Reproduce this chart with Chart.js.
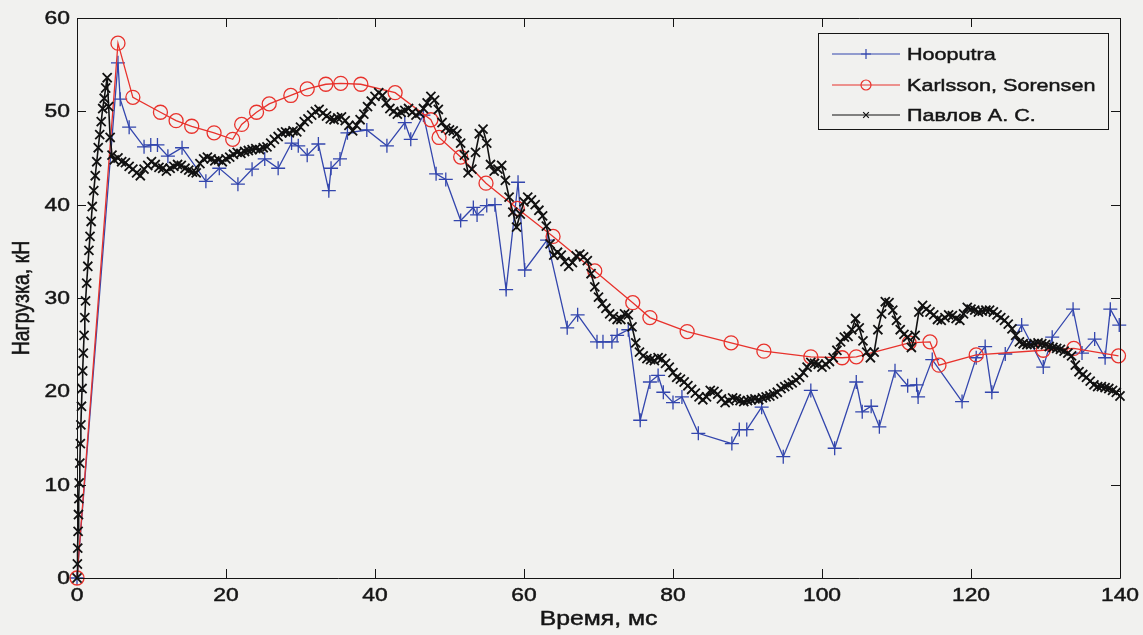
<!DOCTYPE html>
<html>
<head>
<meta charset="utf-8">
<script src="https://cdn.jsdelivr.net/npm/chart.js@4/dist/chart.umd.min.js"></script>
<style>
  html, body { margin: 0; padding: 0; background: #f1f1ef; }
  #wrap { width: 1143px; height: 635px; position: relative; }
</style>
</head>
<body>
<div id="wrap"><canvas id="c" width="1143" height="635"></canvas></div>
<script>
// Series names (legend order)
const seriesNames = ['Hooputra', 'Karlsson, Sorensen', 'Павлов А. С.'];

// Hooputra: time, ms / load, kN
const hooputraTime = [0, 5.5, 5.8, 7.0, 9.0, 9.9, 10.8, 12.2, 14.1, 17.3, 19.1, 21.6, 23.5, 25.2, 27.0,
  28.8, 29.7, 30.9, 32.4, 33.8, 34.1, 35.3, 36.3, 38.9, 41.6, 44.0, 44.8, 46.5, 48.2, 49.5,
  51.5, 53.2, 53.7, 55.0, 56.1, 57.6, 59.2, 60.1, 63.1, 65.8, 67.2, 69.8, 70.6, 71.8, 72.5,
  74.0, 75.6, 76.9, 78.0, 78.7, 80.0, 81.2, 83.4, 87.9, 88.9, 89.9, 91.9, 94.8, 98.5, 101.7,
  104.6, 105.4, 106.6, 107.7, 109.8, 111.5, 112.7, 112.9, 114.8, 118.8, 120.7, 121.9, 122.8, 124.6, 126.8,
  129.7, 130.9, 133.7, 134.9, 136.6, 138.0, 138.7, 139.9];
const hooputraLoad = [0, 55.2, 51.3, 48.3, 46.2, 46.4, 46.4, 45.2, 46.1, 42.5, 43.9, 42.2, 43.8, 44.9, 43.9,
  46.6, 46.3, 45.3, 46.5, 41.5, 43.9, 44.9, 47.7, 48.0, 46.3, 48.8, 47.0, 49.6, 43.3, 42.7,
  38.3, 39.7, 38.9, 39.9, 40.0, 30.9, 42.4, 33.0, 36.2, 26.8, 28.2, 25.3, 25.3, 25.3, 26.0,
  26.6, 16.9, 21.0, 21.7, 19.9, 18.8, 19.4, 15.5, 14.4, 15.9, 15.9, 18.3, 13.0, 20.1, 13.9,
  21.0, 17.8, 18.4, 16.2, 22.2, 20.6, 20.7, 19.4, 23.4, 18.9, 23.6, 24.8, 19.9, 24.0, 27.1,
  22.6, 25.8, 28.8, 24.1, 25.6, 23.6, 28.8, 27.1];

// Karlsson, Sorensen: time, ms / load, kN
const karlssonTime = [0, 5.5, 7.5, 11.2, 13.3, 15.4, 18.4, 20.9, 22.1, 24.1, 25.8, 28.7, 30.9, 33.4, 35.4,
  38.1, 42.7, 47.5, 48.6, 51.5, 54.9, 59.1, 63.9, 69.5, 74.6, 76.9, 81.9, 87.8, 92.2, 98.5,
  102.7, 104.6, 111.7, 114.5, 115.7, 120.7, 129.7, 133.8, 139.8];
const karlssonLoad = [0, 57.3, 51.5, 49.9, 49.0, 48.4, 47.7, 47.0, 48.6, 49.9, 50.8, 51.7, 52.4, 52.9, 53.0,
  52.9, 52.0, 49.1, 47.2, 45.1, 42.3, 39.6, 36.6, 32.9, 29.5, 27.9, 26.4, 25.2, 24.3, 23.7,
  23.6, 23.7, 25.2, 25.3, 22.8, 23.9, 24.4, 24.6, 23.8];

// Павлов А. С.: loading front (time, ms / load, kN)
const pavlovRampTime = [0, 0.05, 0.1, 0.15, 0.2, 0.25, 0.3, 0.38, 0.45, 0.52, 0.6, 0.68, 0.76, 0.85, 0.95,
  1.05, 1.15, 1.3, 1.45, 1.6, 1.75, 1.9, 2.05, 2.25, 2.45, 2.65, 2.85, 3.05, 3.25, 3.45,
  3.65, 3.85, 4.05, 4.25, 4.45, 4.7];
const pavlovRampLoad = [0, 1.5, 3.2, 5.0, 6.8, 8.5, 10.2, 12.3, 14.4, 16.4, 18.4, 20.3, 22.2, 24.1, 26.0,
  27.9, 29.7, 31.6, 33.4, 35.1, 36.6, 38.2, 39.8, 41.5, 43.1, 44.6, 46.1, 47.5, 48.9, 50.3,
  51.4, 52.5, 53.6, 50.5, 47.2, 45.3];

// Павлов А. С.: recorded load, kN, sampled every pavlovStepMs from pavlovStartMs
const pavlovStartMs = 5.0;
const pavlovStepMs = 0.5;
const pavlovLoad = [
  44.8, 45.0, 44.6, 44.5, 44.1, 43.8, 43.4, 43.1, 43.8, 44.2,
  44.6, 44.3, 44.0, 43.9, 43.6, 43.9, 44.1, 44.3, 44.2, 43.9,
  43.7, 43.5, 43.4, 44.4, 44.9, 45.1, 44.9, 44.7, 44.8, 44.6,
  44.9, 45.1, 45.4, 45.6, 45.5, 45.7, 45.8, 45.9, 46.0, 45.9,
  46.1, 46.2, 46.6, 47.0, 47.3, 47.7, 47.8, 47.7, 47.9, 47.8,
  48.3, 48.9, 49.2, 49.6, 50.0, 50.2, 49.8, 49.5, 49.2, 49.1,
  49.3, 49.4, 49.0, 48.5, 47.9, 48.5, 49.1, 49.7, 50.5, 51.1,
  51.6, 52.0, 51.7, 50.9, 50.3, 50.0, 49.7, 49.9, 50.1, 50.3,
  49.9, 49.6, 49.8, 50.3, 50.9, 51.6, 51.2, 50.2, 48.8, 48.2,
  48.0, 47.9, 47.6, 46.6, 45.3, 43.4, 43.8, 45.6, 47.6, 48.1,
  46.6, 44.3, 43.6, 43.8, 44.2, 42.6, 40.8, 39.2, 37.6, 39.0,
  40.3, 40.8, 40.5, 40.0, 39.4, 38.8, 37.7, 35.8, 34.6, 34.9,
  34.6, 33.9, 33.4, 33.8, 34.5, 34.7, 34.4, 34.0, 32.6, 31.2,
  30.1, 29.4, 28.9, 28.3, 28.0, 27.7, 27.7, 28.3, 28.2, 26.9,
  25.2, 24.2, 23.8, 23.5, 23.4, 23.3, 23.6, 23.5, 23.0, 22.6,
  22.0, 21.5, 21.3, 21.0, 20.6, 20.2, 19.8, 19.4, 19.1, 19.4,
  20.1, 20.0, 19.7, 19.2, 18.8, 19.0, 19.3, 19.2, 19.0, 18.9,
  19.0, 19.1, 19.2, 19.1, 19.3, 19.4, 19.5, 19.7, 19.9, 20.3,
  20.5, 20.7, 20.9, 21.2, 21.5, 22.0, 22.6, 23.1, 23.0, 22.9,
  22.6, 22.9, 23.2, 23.6, 24.4, 25.3, 25.8, 25.9, 26.6, 27.8,
  26.8, 25.4, 24.2, 23.6, 24.2, 26.6, 28.3, 29.6, 29.5, 28.7,
  27.6, 26.6, 26.1, 25.8, 24.7, 26.0, 28.5, 29.2, 28.8, 28.5,
  28.2, 27.7, 27.6, 27.9, 28.2, 28.1, 27.8, 27.6, 28.3, 29.0,
  28.8, 28.7, 28.5, 28.6, 28.7, 28.7, 28.5, 28.2, 27.9, 27.6,
  27.2, 26.7, 26.0, 25.3, 25.1, 25.0, 25.0, 25.1, 25.2, 25.1,
  25.0, 24.8, 24.7, 24.6, 24.5, 24.3, 24.1, 23.8, 22.8, 22.1,
  21.8, 21.5, 21.1, 20.7, 20.5, 20.5, 20.4, 20.3, 20.1, 19.9,
  19.5
];

// Axis ticks and titles
const xTicks = [0, 20, 40, 60, 80, 100, 120, 140];
const yTicks = [0, 10, 20, 30, 40, 50, 60];
const xTitle = 'Время, мс';
const yTitle = 'Нагрузка, кН';

// ---- build point tables for the library ----
const toPoints = (xs, ys) => xs.map((x, i) => ({ x, y: ys[i] }));
const hooputraPts = toPoints(hooputraTime, hooputraLoad);
const karlssonPts = toPoints(karlssonTime, karlssonLoad);
const pavlovPts = toPoints(pavlovRampTime, pavlovRampLoad)
  .concat(pavlovLoad.map((y, i) => ({ x: +(pavlovStartMs + i * pavlovStepMs).toFixed(2), y })));

const FONT = '"Liberation Sans", Arial, sans-serif';
const INK = '#151515';
const BG = '#f1f1ef';
const TEXT_SX = 1.27;   // wide lettering: horizontal scale for all labels

const colors = { blue: '#3346ad', red: '#e8322c', black: '#111111' };

// draw a label with wide (horizontally scaled) lettering
function wideText(ctx, text, x, y, size, align, rotate) {
  ctx.save();
  ctx.translate(x, y);
  ctx.scale(TEXT_SX, 1);
  if (rotate) ctx.rotate(-Math.PI / 2);
  ctx.font = size + 'px ' + FONT;
  ctx.textAlign = align;
  ctx.textBaseline = 'middle';
  ctx.fillStyle = INK;
  ctx.strokeStyle = INK;
  ctx.lineWidth = 0.45;
  ctx.fillText(text, 0, 0);
  ctx.strokeText(text, 0, 0);
  ctx.restore();
}

// page background
const bgPlugin = {
  id: 'bg',
  beforeDraw(chart) {
    const { ctx, width, height } = chart;
    ctx.save();
    ctx.fillStyle = BG;
    ctx.fillRect(0, 0, width, height);
    ctx.restore();
  }
};

// axes box with inward ticks on all four sides, tick labels and axis titles
const framePlugin = {
  id: 'frame',
  afterDatasetsDraw(chart) {
    const { ctx, chartArea: a, scales: { x, y } } = chart;
    const L = 9;
    ctx.save();
    ctx.strokeStyle = INK;
    ctx.lineWidth = 1;
    ctx.beginPath();
    ctx.rect(Math.round(a.left) + 0.5, Math.round(a.top) + 0.5,
      Math.round(a.right - a.left), Math.round(a.bottom - a.top));
    x.ticks.forEach(t => {
      const p = Math.round(x.getPixelForValue(t.value)) + 0.5;
      ctx.moveTo(p, a.bottom); ctx.lineTo(p, a.bottom - L);
      ctx.moveTo(p, a.top); ctx.lineTo(p, a.top + L);
    });
    y.ticks.forEach(t => {
      const p = Math.round(y.getPixelForValue(t.value)) + 0.5;
      ctx.moveTo(a.left, p); ctx.lineTo(a.left + L, p);
      ctx.moveTo(a.right, p); ctx.lineTo(a.right - L, p);
    });
    ctx.stroke();
    ctx.restore();

    x.ticks.forEach(t => wideText(ctx, String(t.value), x.getPixelForValue(t.value), a.bottom + 18, 18, 'center'));
    y.ticks.forEach(t => wideText(ctx, String(t.value), a.left - 7, y.getPixelForValue(t.value) + 1, 18, 'right'));
    wideText(ctx, xTitle, (a.left + a.right) / 2, a.bottom + 42, 19.5, 'center');
    wideText(ctx, yTitle, 22, (a.top + a.bottom) / 2, 19.5, 'center', true);
  }
};

// boxed legend in the upper right corner of the axes
const legendPlugin = {
  id: 'boxLegend',
  afterDraw(chart) {
    const { ctx, chartArea: a } = chart;
    const left = a.right - 302, top = a.top + 15, w = 290, h = 96;
    ctx.save();
    ctx.fillStyle = BG;
    ctx.fillRect(left, top, w, h);
    ctx.strokeStyle = INK;
    ctx.lineWidth = 1;
    ctx.strokeRect(Math.round(left) + 0.5, Math.round(top) + 0.5, w, h);
    const rows = [top + 21, top + 52, top + 82];
    chart.data.datasets.forEach((ds, i) => {
      const yy = rows[i];
      ctx.strokeStyle = ds.borderColor;
      ctx.lineWidth = 1.2;
      ctx.beginPath();
      ctx.moveTo(left + 14, yy);
      ctx.lineTo(left + 82, yy);
      ctx.stroke();
      ctx.fillStyle = 'rgba(0,0,0,0)';
      ctx.lineWidth = 1.2;
      Chart.helpers.drawPoint(ctx, {
        pointStyle: ds.pointStyle, rotation: 0,
        radius: ds.legendRadius, borderWidth: 1.2
      }, left + 48, yy);
      wideText(ctx, ds.label, left + 89, yy + 1, 17, 'left');
    });
    ctx.restore();
  }
};

new Chart(document.getElementById('c'), {
  type: 'line',
  data: {
    datasets: [
      {
        label: seriesNames[0], data: hooputraPts, order: 3,
        borderColor: colors.blue, backgroundColor: 'rgba(0,0,0,0)',
        borderWidth: 1.3, pointStyle: 'cross', pointRadius: 7, pointBorderWidth: 1.3,
        pointBorderColor: colors.blue, legendRadius: 5, tension: 0, clip: false
      },
      {
        label: seriesNames[1], data: karlssonPts, order: 2,
        borderColor: colors.red, backgroundColor: 'rgba(0,0,0,0)',
        borderWidth: 1.3, pointStyle: 'circle', pointRadius: 7, pointBorderWidth: 1.3,
        pointBorderColor: colors.red, pointBackgroundColor: 'rgba(0,0,0,0)', legendRadius: 5,
        tension: 0, clip: false
      },
      {
        label: seriesNames[2], data: pavlovPts, order: 1,
        borderColor: colors.black, backgroundColor: 'rgba(0,0,0,0)',
        borderWidth: 1.6, pointStyle: 'crossRot', pointRadius: 6.4, pointBorderWidth: 1.8,
        pointBorderColor: colors.black, legendRadius: 4, tension: 0, clip: false
      }
    ]
  },
  options: {
    responsive: false,
    animation: false,
    devicePixelRatio: 1,
    events: [],
    layout: { padding: { top: 18, right: 23, left: 0, bottom: 0 } },
    plugins: { legend: { display: false }, tooltip: { enabled: false } },
    scales: {
      x: {
        type: 'linear', min: 0, max: 140,
        afterBuildTicks: s => { s.ticks = xTicks.map(v => ({ value: v })); },
        afterFit: s => { s.height = 57; },
        grid: { display: false, drawTicks: false },
        border: { display: false },
        ticks: { display: false }
      },
      y: {
        type: 'linear', min: 0, max: 60,
        afterBuildTicks: s => { s.ticks = yTicks.map(v => ({ value: v })); },
        afterFit: s => { s.width = 77; },
        grid: { display: false, drawTicks: false },
        border: { display: false },
        ticks: { display: false }
      }
    }
  },
  plugins: [bgPlugin, framePlugin, legendPlugin]
});
</script>
</body>
</html>
